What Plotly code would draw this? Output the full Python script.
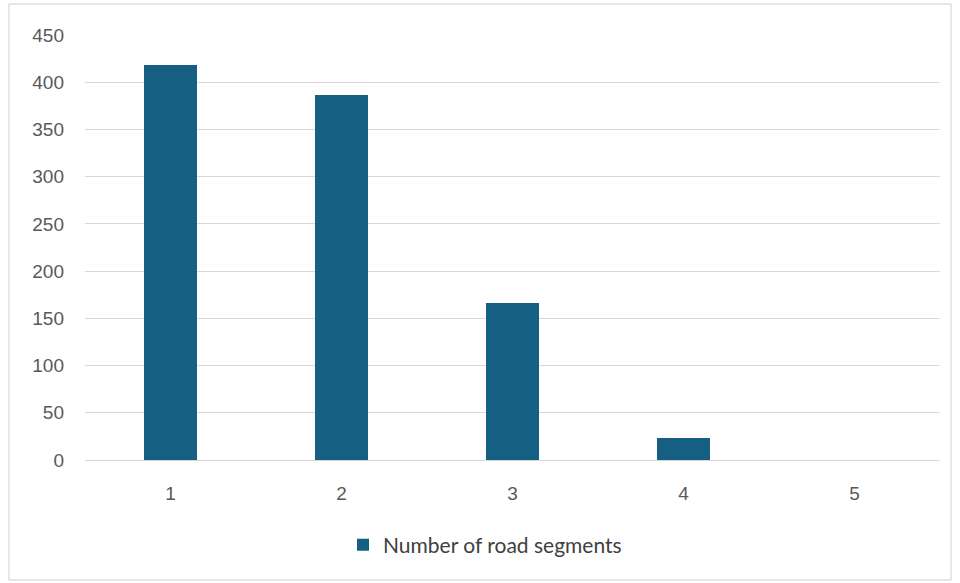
import plotly.graph_objects as go

# Road segment counts per category
categories = ["1", "2", "3", "4", "5"]
segment_counts = [418, 386, 166, 23, 0]
y_ticks = [0, 50, 100, 150, 200, 250, 300, 350, 400, 450]

W, H = 960, 583
L, R, T, B = 85, 20, 35, 123
pw, ph = W - L - R, H - T - B

def px_x(x):
    return (x - L) / pw

def px_y(y):
    return (H - B - y) / ph

fig = go.Figure()
fig.add_trace(go.Bar(
    x=categories,
    y=segment_counts,
    name="Number of road segments",
    marker=dict(color="#156082", line=dict(width=0)),
    width=0.31,
    showlegend=True,
))

fig.update_layout(
    width=W, height=H,
    margin=dict(l=L, r=R, t=T, b=B),
    paper_bgcolor="white",
    plot_bgcolor="white",
    font=dict(family="Liberation Sans, Arial, sans-serif", color="#595959", size=19),
    bargap=0,
    showlegend=True,
    legend=dict(
        orientation="h",
        x=px_x(343), xanchor="left",
        y=px_y(545), yanchor="middle",
        font=dict(family="Lato, sans-serif", size=21, color="#404040"),
        itemwidth=30,
    ),
    xaxis=dict(
        type="category",
        range=[-0.5, 4.5],
        showgrid=False,
        showline=False,
        zeroline=False,
        ticks="",
        ticklabelstandoff=20,
        tickfont=dict(size=19, color="#595959"),
    ),
    yaxis=dict(
        range=[0, 450],
        tickvals=y_ticks,
        showgrid=True,
        gridcolor="#d9d9d9",
        gridwidth=1,
        zeroline=True,
        zerolinecolor="#d9d9d9",
        zerolinewidth=1,
        showline=False,
        ticks="",
        ticklabelstandoff=20,
        tickfont=dict(size=19, color="#595959"),
    ),
    shapes=[dict(
        type="rect", xref="paper", yref="paper",
        x0=px_x(9), x1=px_x(951), y0=px_y(580), y1=px_y(4),
        line=dict(color="#d0d0d0", width=1),
        fillcolor="rgba(0,0,0,0)",
        layer="below",
    )],
)

fig.write_html("out.html")
